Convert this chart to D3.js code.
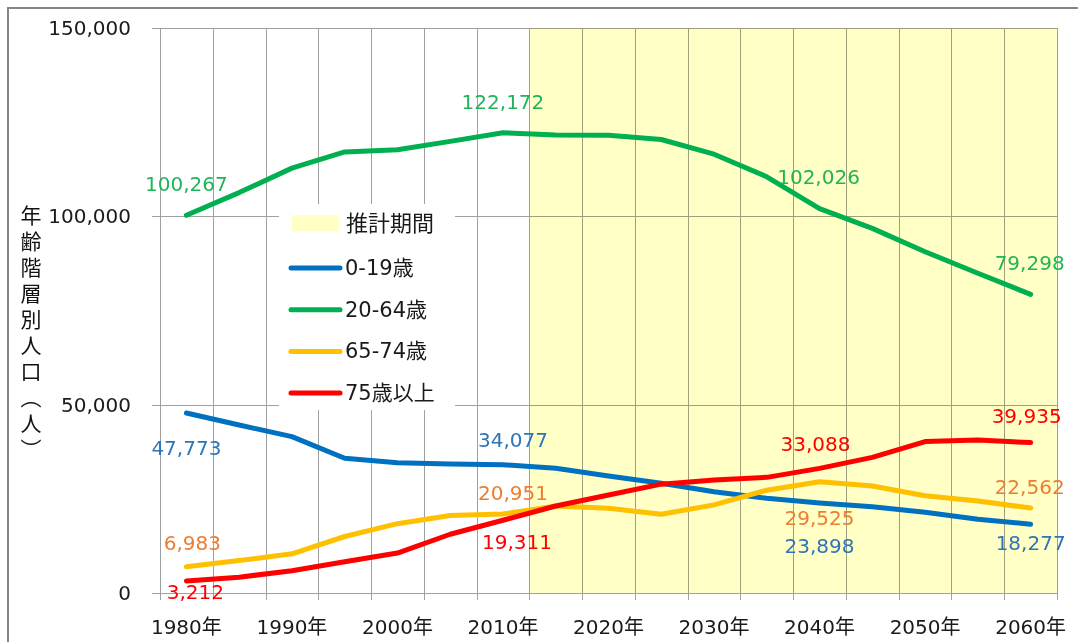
<!DOCTYPE html>
<html>
<head>
<meta charset="utf-8">
<script src="https://cdn.jsdelivr.net/npm/d3@7"></script>
<style>
  html, body { margin: 0; padding: 0; background: #fff; }
  svg { display: block; }
  text { font-family: "DejaVu Sans", "Noto Sans CJK JP", sans-serif; }
</style>
</head>
<body>
<svg id="chart" width="1078" height="642"></svg>
<script>
// ---- data ----
const years = [1980,1985,1990,1995,2000,2005,2010,2015,2020,2025,2030,2035,2040,2045,2050,2055,2060];
const age0_19  = [47773,44600,41500,35760,34600,34250,34077,33100,31060,29120,26900,25140,23898,22920,21420,19560,18277];
const age20_64 = [100267,106300,112800,117100,117700,119900,122172,121600,121500,120400,116500,110500,102026,96800,90600,84900,79298];
const age65_74 = [6983,8600,10400,15000,18400,20600,20951,23100,22500,20900,23400,27300,29525,28400,25800,24400,22562];
const age75up  = [3212,4200,5900,8300,10600,15600,19311,23100,26000,28900,30000,30700,33088,36000,40200,40600,39935];
const seriesNames = ["0-19歳","20-64歳","65-74歳","75歳以上"];
const projectionLabel = "推計期間";
const projectionStartYear = 2015;
const yTicks = [0, 50000, 100000, 150000];
const xTickLabels = ["1980年","1990年","2000年","2010年","2020年","2030年","2040年","2050年","2060年"];
const yTitle = "年齢階層別人口（人）";
const labeledYears = [1980, 2010, 2040, 2060];

// ---- drawing ----
(function () {
const svg = d3.select("#chart");
const pl = 160, pr = 1057, pt = 28, pb = 593;

const x = d3.scaleBand().domain(years).range([pl, pr]).paddingInner(0).paddingOuter(0);
const bw = x.bandwidth();
const cx = yr => x(yr) + bw / 2;
const y = d3.scaleLinear().domain([0, 150000]).range([pb, pt]);

const series = [
  { name: seriesNames[0], values: age0_19,  line: "#0070C0", label: "#2E75B6",
    off: [[0,35],[10,-25],[0,43],[0,19]] },
  { name: seriesNames[1], values: age20_64, line: "#00B050", label: "#21B45A",
    off: [[0,-31],[0,-31],[-1,-32],[-1,-31]] },
  { name: seriesNames[2], values: age65_74, line: "#FFC000", label: "#ED7D31",
    off: [[6,-24],[10,-21],[0,36],[-1,-21]] },
  { name: seriesNames[3], values: age75up,  line: "#FF0000", label: "#FF0000",
    off: [[9,11],[14,22],[-4,-24],[-4,-27]] }
];

// outer frame
svg.append("rect").attr("x", 8).attr("y", 8).attr("width", 1090).attr("height", 660)
  .attr("fill", "#fff").attr("stroke", "#868686").attr("stroke-width", 2);

// projection area
svg.append("rect")
  .attr("x", x(projectionStartYear)).attr("y", y(150000))
  .attr("width", pr - x(projectionStartYear)).attr("height", y(0) - y(150000))
  .attr("fill", "#FFFFC6");

// gridlines (multiply so they turn olive on yellow)
const grid = svg.append("g").style("mix-blend-mode", "multiply")
  .attr("stroke", "#A0A0A0").attr("stroke-width", 1).attr("shape-rendering", "crispEdges");
const bounds = years.map(d => x(d)).concat([pr]);
grid.selectAll("line.v").data(bounds).join("line").attr("class", "v")
  .attr("x1", d => Math.round(d) + 0.5).attr("x2", d => Math.round(d) + 0.5)
  .attr("y1", pt).attr("y2", pb + 7);
grid.selectAll("line.h").data(yTicks).join("line").attr("class", "h")
  .attr("x1", pl - 8).attr("x2", pr)
  .attr("y1", d => Math.round(y(d)) + 0.5).attr("y2", d => Math.round(y(d)) + 0.5);

// y tick labels
svg.append("g").selectAll("text").data(yTicks).join("text")
  .attr("x", 131).attr("y", d => y(d)).attr("text-anchor", "end")
  .attr("dominant-baseline", "central").attr("font-size", 20).attr("fill", "#1a1a1a")
  .text(d => d3.format(",")(d));

// x tick labels
svg.append("g").selectAll("text").data(xTickLabels).join("text")
  .attr("x", d => cx(parseInt(d))).attr("y", 627).attr("text-anchor", "middle")
  .attr("dominant-baseline", "central").attr("font-size", 20).attr("fill", "#1a1a1a")
  .text(d => d);

// y title (vertical)
svg.append("text").attr("x", 31).attr("y", 205)
  .style("writing-mode", "vertical-rl").style("text-orientation", "upright")
  .style("font-family", "'Noto Sans CJK JP', sans-serif")
  .attr("font-size", 21).attr("letter-spacing", 5).attr("fill", "#111")
  .text(yTitle);

// lines
const lineGen = d3.line().x((d, i) => cx(years[i])).y(d => y(d));
svg.append("g").selectAll("path").data(series).join("path")
  .attr("d", s => lineGen(s.values)).attr("fill", "none")
  .attr("stroke", s => s.line).attr("stroke-width", 5)
  .attr("stroke-linejoin", "round").attr("stroke-linecap", "round");

// data labels
const labelG = svg.append("g");
series.forEach(s => {
  labeledYears.forEach((yr, k) => {
    const i = years.indexOf(yr);
    labelG.append("text")
      .attr("x", cx(yr) + s.off[k][0]).attr("y", y(s.values[i]) + s.off[k][1])
      .attr("text-anchor", "middle").attr("dominant-baseline", "central")
      .attr("font-size", 20).attr("fill", s.label)
      .text(d3.format(",")(s.values[i]));
  });
});

// legend
const lg = svg.append("g");
lg.append("rect").attr("x", 279).attr("y", 204).attr("width", 176).attr("height", 206).attr("fill", "#fff");
lg.append("rect").attr("x", 292).attr("y", 215).attr("width", 47).attr("height", 16).attr("fill", "#FFFFC6");
lg.append("text").attr("x", 346).attr("y", 223).attr("dominant-baseline", "central")
  .attr("font-size", 22).attr("fill", "#1a1a1a").text(projectionLabel);
series.forEach((s, i) => {
  const ly = 268 + i * 41.7;
  lg.append("line").attr("x1", 291).attr("x2", 340).attr("y1", ly).attr("y2", ly)
    .attr("stroke", s.line).attr("stroke-width", 5).attr("stroke-linecap", "round");
  lg.append("text").attr("x", 345).attr("y", ly).attr("dominant-baseline", "central")
    .attr("font-size", 21).attr("fill", "#1a1a1a").text(s.name);
});
})();
</script>
</body>
</html>
